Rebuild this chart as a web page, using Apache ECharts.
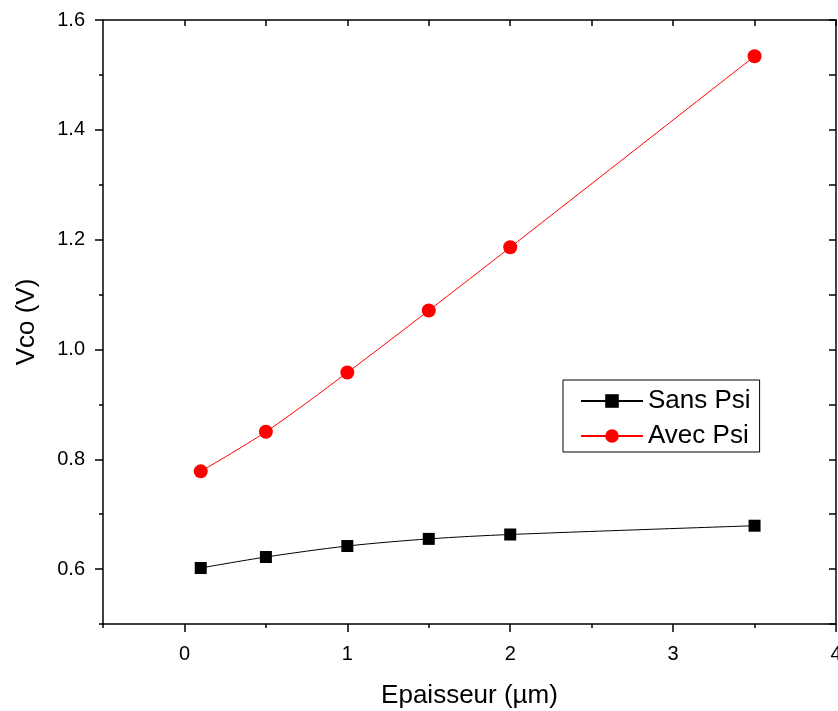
<!DOCTYPE html>
<html><head><meta charset="utf-8">
<script src="https://cdn.jsdelivr.net/npm/echarts@6/dist/echarts.min.js"></script>
<style>html,body{margin:0;padding:0;background:#fff}#c{width:838px;height:711px}</style>
</head><body><div id="c"></div>
<script>
var thickness = [0.1, 0.5, 1, 1.5, 2, 3.5];
var sansPsi = [0.602, 0.622, 0.642, 0.655, 0.663, 0.679];
var avecPsi = [0.778, 0.850, 0.958, 1.071, 1.186, 1.534];
var xLabels = [0, 1, 2, 3, 4];
var yLabels = [0.6, 0.8, 1.0, 1.2, 1.4, 1.6];
var xAllTicks = [-0.5, 0, 0.5, 1, 1.5, 2, 2.5, 3, 3.5, 4];
var yAllTicks = [0.5, 0.6, 0.7, 0.8, 0.9, 1.0, 1.1, 1.2, 1.3, 1.4, 1.5, 1.6];

var font = 'Liberation Sans, Arial, sans-serif';
function pts(xs, ys){ return xs.map(function(x,i){return [x, ys[i]];}); }
function baseX(extra){
  return Object.assign({type:'value', min:-0.5, max:4, interval:0.5, splitLine:{show:false}}, extra);
}
function baseY(extra){
  return Object.assign({type:'value', min:0.5, max:1.6, interval:0.1, splitLine:{show:false}}, extra);
}
var chart = echarts.init(document.getElementById('c'));
chart.setOption({
  animation:false,
  backgroundColor:'#fff',
  grid:{left:103, right:2, top:20, bottom:87, containLabel:false, outerBoundsMode:'none'},
  xAxis:[
    baseX({position:'bottom', name:'Epaisseur (µm)', nameLocation:'middle', nameGap:59,
      nameTextStyle:{fontFamily:font, fontSize:26, color:'#000'},
      axisLine:{show:true, onZero:false, lineStyle:{color:'#000', width:1.5}},
      axisTick:{show:true, inside:false, length:8, customValues:xLabels, lineStyle:{color:'#000', width:1.5}},
      axisLabel:{show:true, customValues:xLabels, fontFamily:font, fontSize:20, color:'#000', margin:20,
        hideOverlap:false, formatter:function(v){return String(v);}}}),
    baseX({position:'bottom', axisLine:{show:false, onZero:false},
      axisTick:{show:true, inside:false, length:4, customValues:xAllTicks, lineStyle:{color:'#000', width:1.5}},
      axisLabel:{show:false}}),
    baseX({position:'top', axisLine:{show:true, onZero:false, lineStyle:{color:'#000', width:1.5}},
      axisTick:{show:true, inside:true, length:6, customValues:[0,0.5,1,1.5,2,2.5,3,3.5,4], lineStyle:{color:'#000', width:1.5}},
      axisLabel:{show:false}})
  ],
  yAxis:[
    baseY({position:'left', name:'Vco (V)', nameLocation:'middle', nameGap:63,
      nameTextStyle:{fontFamily:font, fontSize:26, color:'#000'},
      axisLine:{show:true, onZero:false, lineStyle:{color:'#000', width:1.5}},
      axisTick:{show:true, inside:false, length:8, customValues:yLabels, lineStyle:{color:'#000', width:1.5}},
      axisLabel:{show:true, customValues:yLabels, fontFamily:font, fontSize:20, color:'#000', margin:18,
        formatter:function(v){return v.toFixed(1);}}}),
    baseY({position:'left', axisLine:{show:false, onZero:false},
      axisTick:{show:true, inside:false, length:4, customValues:yAllTicks, lineStyle:{color:'#000', width:1.5}},
      axisLabel:{show:false}}),
    baseY({position:'right', axisLine:{show:true, onZero:false, lineStyle:{color:'#000', width:1.5}},
      axisTick:{show:true, inside:true, length:7, customValues:yAllTicks, lineStyle:{color:'#000', width:1.5}},
      axisLabel:{show:false}})
  ],
  legend:{
    left:563, top:380, orient:'vertical', itemWidth:62, itemHeight:17, itemGap:9,
    padding:[8,9,3,17],
    borderColor:'#000', borderWidth:1, backgroundColor:'#fff',
    textStyle:{fontFamily:font, fontSize:26, color:'#000'},
    data:['Sans Psi','Avec Psi']
  },
  series:[
    {name:'Sans Psi', type:'line', xAxisIndex:0, yAxisIndex:0, data:pts(thickness, sansPsi), smooth:0.3,
      symbol:'rect', symbolSize:12, itemStyle:{color:'#000'}, lineStyle:{color:'#000', width:1}},
    {name:'Avec Psi', type:'line', xAxisIndex:0, yAxisIndex:0, data:pts(thickness, avecPsi), smooth:0.3,
      symbol:'circle', symbolSize:14, itemStyle:{color:'#ff0000'}, lineStyle:{color:'#ff0000', width:1}}
  ]
});
</script></body></html>
